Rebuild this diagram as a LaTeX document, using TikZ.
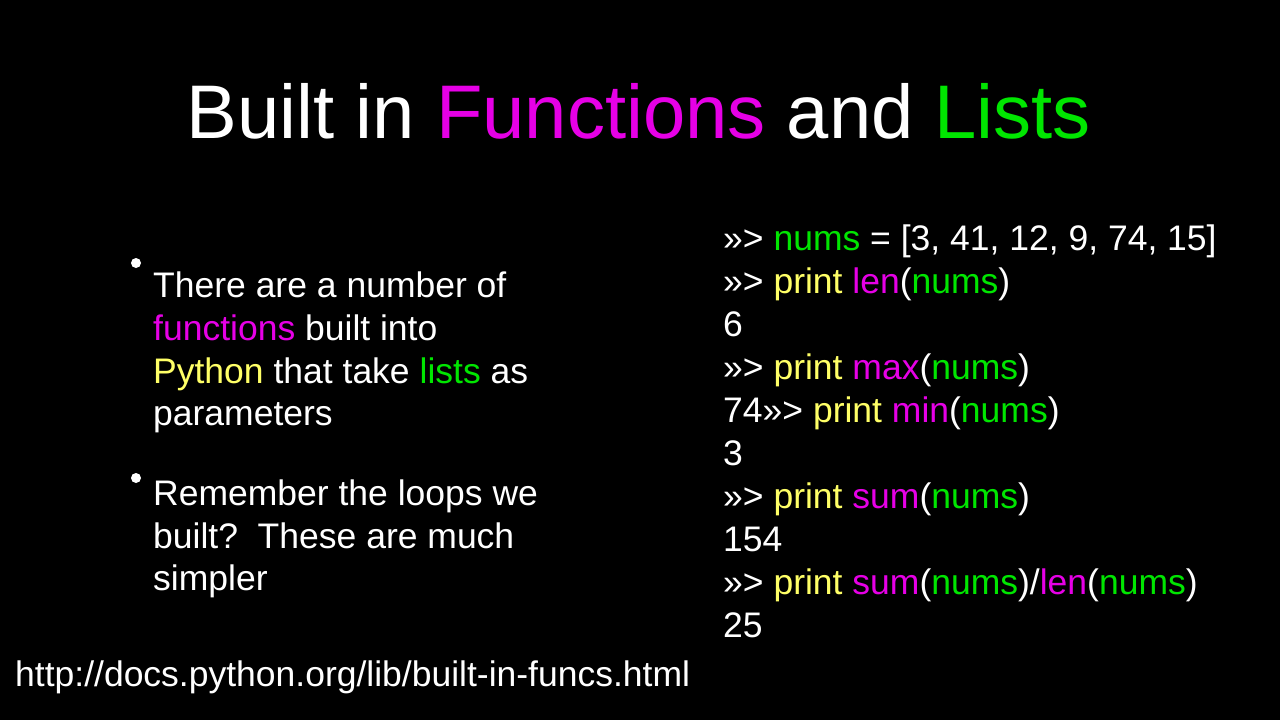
\documentclass[tikz,border=0pt]{standalone}
\usepackage{fontspec}
\setmainfont{Liberation Sans}
\definecolor{mag}{RGB}{230,0,230}
\definecolor{grn}{RGB}{0,230,0}
\definecolor{yel}{RGB}{255,255,102}
\newcommand{\M}[1]{\textcolor{mag}{#1}}
\newcommand{\G}[1]{\textcolor{grn}{#1}}
\newcommand{\Y}[1]{\textcolor{yel}{#1}}
\newcommand{\PyPr}{\textgreater\textgreater\textgreater}
\begin{document}
\begin{tikzpicture}[x=1pt,y=-1pt,
  txt/.style={anchor=base west,text=white,inner sep=0pt,font=\fontsize{35.5}{40}\selectfont},
  dot/.style={circle,fill=white,inner sep=0pt,minimum size=10pt}]
\fill[black] (0,0) rectangle (1280,720);
\useasboundingbox (0,0) rectangle (1280,720);
\node[anchor=base,text=white,inner sep=0pt,font=\fontsize{76}{80}\selectfont] (title) at (639,138) {Built in \M{Functions} and \G{Lists}};
\node[dot] (b1) at (136,263) {};
\node[dot] (b2) at (136,478) {};
\node[txt] (l1) at (153,297) {There are a number of};
\node[txt] (l2) at (153,340) {\M{functions} built into};
\node[txt] (l3) at (153,383) {\Y{Python} that take \G{lists} as};
\node[txt] (l4) at (153,425) {parameters};
\node[txt] (l5) at (153,505) {Remember the loops we};
\node[txt] (l6) at (153,548) {built?\ \ These are much};
\node[txt] (l7) at (153,590) {simpler};
\node[txt] (url) at (15,686) {http://docs.python.org/lib/built-in-funcs.html};
\node[txt] (c1) at (723,250) {\PyPr{} \G{nums} = [3, 41, 12, 9, 74, 15]};
\node[txt] (c2) at (723,293) {\PyPr{} \Y{print} \M{len}(\G{nums})};
\node[txt] (c3) at (723,336) {6};
\node[txt] (c4) at (723,379) {\PyPr{} \Y{print} \M{max}(\G{nums})};
\node[txt] (c5) at (723,422) {74\PyPr{} \Y{print} \M{min}(\G{nums})};
\node[txt] (c6) at (723,465) {3};
\node[txt] (c7) at (723,508) {\PyPr{} \Y{print} \M{sum}(\G{nums})};
\node[txt] (c8) at (723,551) {154};
\node[txt] (c9) at (723,594) {\PyPr{} \Y{print} \M{sum}(\G{nums})/\M{len}(\G{nums})};
\node[txt] (c10) at (723,637) {25};
\end{tikzpicture}
\end{document}
